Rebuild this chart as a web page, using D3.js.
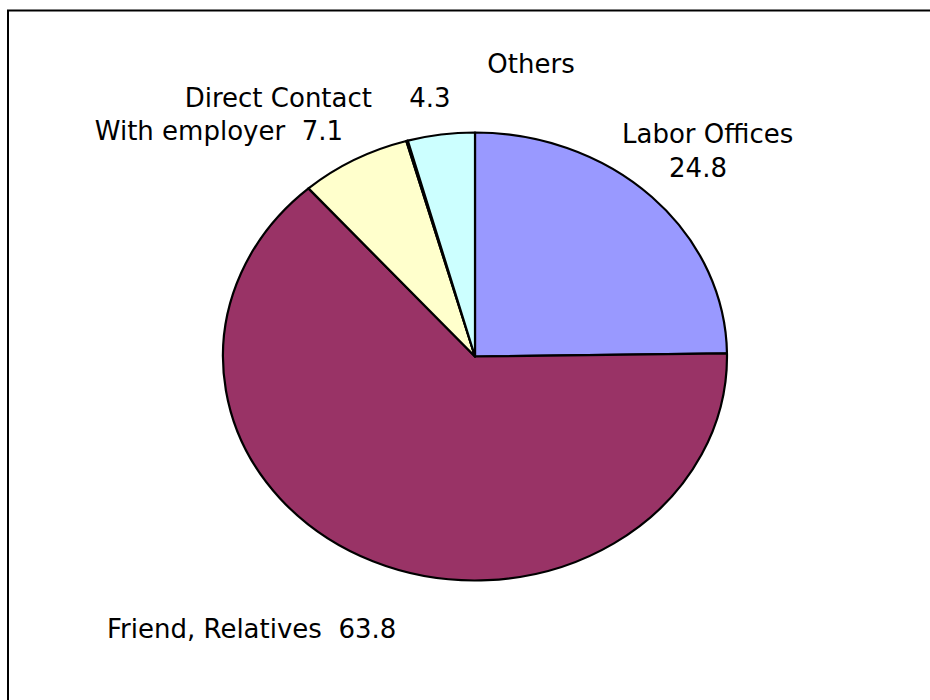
<!DOCTYPE html>
<html>
<head>
<meta charset="utf-8">
<script src="https://cdn.jsdelivr.net/npm/d3@7"></script>
<style>
  body { margin: 0; background: #fff; }
  text { font-family: Tahoma, "DejaVu Sans", sans-serif; font-size: 26px; fill: #000; }
</style>
</head>
<body>
<div id="chart"></div>
<script>
// slices go clockwise from 12 o'clock
var categories = ["Labor Offices", "Friend, Relatives", "Direct Contact With employer", "", "Others"];
var values = [24.8, 63.8, 7.1, 0.1, 4.3];
var colours = ["#9999FF", "#993366", "#FFFFCC", "#FFFFFF", "#CCFFFF"];

var width = 930, height = 700;

var svg = d3.select("#chart")
    .append("svg")
    .attr("width", width)
    .attr("height", height);

// chart area frame (right/bottom edges sit outside the window)
svg.append("rect")
    .attr("x", 8)
    .attr("y", 10.5)
    .attr("width", 960)
    .attr("height", 760)
    .attr("fill", "none")
    .attr("stroke", "#000")
    .attr("stroke-width", 2);

var cx = 475, cy = 356.5, rx = 252, ry = 224;
var R = 100;

var data = categories.map(function(c, i) {
    return { name: c, value: values[i], colour: colours[i] };
});

var pie = d3.pie()
    .sort(null)
    .value(function(d) { return d.value; });

var arc = d3.arc().innerRadius(0).outerRadius(R);

// pie is drawn as a circle and squashed to an ellipse
var g = svg.append("g")
    .attr("transform", "translate(" + cx + "," + cy + ") scale(" + (rx / R) + "," + (ry / R) + ")");

g.selectAll(".slice")
    .data(pie(data))
    .enter()
    .append("path")
    .attr("class", "slice")
    .attr("d", arc)
    .attr("fill", function(d) { return d.data.colour; })
    .attr("stroke", "#000")
    .attr("stroke-width", 2.2)
    .attr("vector-effect", "non-scaling-stroke")
    .attr("stroke-linejoin", "round");

// labels placed like the original, text built from the data
var fmt = d3.format(".1f");
var labels = svg.append("g");

labels.append("text").attr("x", 622).attr("y", 143).text(categories[0]);
labels.append("text").attr("x", 698).attr("y", 177).attr("text-anchor", "middle").text(fmt(values[0]));

labels.append("text").attr("x", 107).attr("y", 638)
    .attr("xml:space", "preserve")
    .text(categories[1] + "  " + fmt(values[1]));

labels.append("text").attr("x", 372).attr("y", 107).attr("text-anchor", "end").text("Direct Contact");
labels.append("text").attr("x", 343).attr("y", 140).attr("text-anchor", "end")
    .attr("xml:space", "preserve")
    .text("With employer  " + fmt(values[2]));

labels.append("text").attr("x", 531).attr("y", 73).attr("text-anchor", "middle").text(categories[4]);
labels.append("text").attr("x", 430).attr("y", 107).attr("text-anchor", "middle").text(fmt(values[4]));
</script>
</body>
</html>
